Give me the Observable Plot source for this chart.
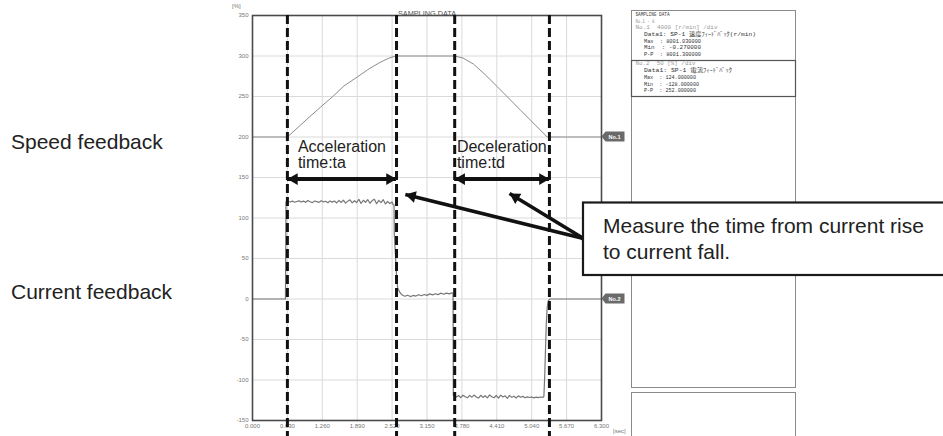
<!DOCTYPE html>
<html>
<head>
<meta charset="utf-8">
<script src="https://cdn.jsdelivr.net/npm/d3@7"></script>
<script src="https://cdn.jsdelivr.net/npm/@observablehq/plot@0.6"></script>
<style>
  body { margin: 0; background: #fff; }
  svg { display: block; }
</style>
</head>
<body>
<div id="chart"></div>
<script>
// ---------- data ----------
const chartTitle = "SAMPLING DATA";
const xTicks = [0, 0.63, 1.26, 1.89, 2.52, 3.15, 3.78, 4.41, 5.04, 5.67, 6.3];
const yTicks = [-150, -100, -50, 0, 50, 100, 150, 200, 250, 300, 350];

// speed feedback (drawn on the % axis, base level 200)
const speedFeedback = [
  [0, 200], [0.63, 200], [1.0, 223], [1.23, 237], [1.45, 250], [1.65, 263],
  [1.89, 274], [2.1, 284], [2.3, 292], [2.45, 297], [2.58, 300],
  [3.65, 300], [3.8, 297.5], [3.99, 290], [4.2, 277], [4.42, 262],
  [4.84, 233], [5.32, 200], [6.3, 200]
];

// current feedback (noisy trace)
const currentFeedback = [
  [0, 0], [0.595, 0], [0.605, 120], [0.64, 120.6], [0.68, 119.8], [0.72, 120.9], [0.76, 119.5],
  [0.80, 120.4], [0.84, 121.2], [0.88, 119.7], [0.92, 120.8], [0.96, 119.4], [1.00, 121.5],
  [1.04, 120.1], [1.08, 119.0], [1.12, 121.0], [1.16, 120.2], [1.20, 119.3], [1.24, 121.4],
  [1.28, 119.8], [1.32, 120.7], [1.36, 118.9], [1.40, 121.1], [1.44, 119.6], [1.48, 120.9],
  [1.52, 118.6], [1.56, 121.7], [1.60, 119.2], [1.64, 122.0], [1.68, 118.4], [1.72, 120.8],
  [1.76, 122.4], [1.80, 118.7], [1.84, 121.3], [1.88, 119.1], [1.92, 123.0], [1.96, 117.9],
  [2.00, 121.9], [2.04, 119.4], [2.08, 122.8], [2.12, 118.2], [2.16, 121.5], [2.20, 123.2],
  [2.24, 117.6], [2.28, 121.8], [2.32, 119.0], [2.36, 122.6], [2.40, 117.3], [2.44, 120.4],
  [2.48, 117.8], [2.52, 119.6], [2.54, 116.5], [2.555, 116], [2.56, 80], [2.60, 30],
  [2.62, 14], [2.66, 8], [2.70, 5.0], [2.75, 3.4], [2.80, 4.6], [2.85, 3.0], [2.90, 4.4],
  [2.95, 3.6], [3.00, 5.3], [3.05, 4.0], [3.10, 5.6], [3.15, 4.5], [3.20, 6.3], [3.25, 5.1],
  [3.30, 6.5], [3.35, 5.4], [3.40, 7.2], [3.45, 5.9], [3.50, 7.3], [3.55, 6.4], [3.60, 7.6],
  [3.62, 7.0], [3.625, -119], [3.64, -118.5], [3.68, -121.0], [3.72, -119.2], [3.76, -121.8],
  [3.80, -118.8], [3.84, -120.6], [3.88, -122.0], [3.92, -119.0], [3.96, -121.2], [4.00, -118.6],
  [4.04, -120.9], [4.08, -122.3], [4.12, -118.9], [4.16, -121.5], [4.20, -119.4], [4.24, -122.0],
  [4.28, -118.5], [4.32, -120.7], [4.36, -121.9], [4.40, -119.1], [4.44, -122.4], [4.48, -118.7],
  [4.52, -121.0], [4.56, -119.5], [4.60, -122.6], [4.64, -119.0], [4.68, -121.4], [4.72, -120.0],
  [4.76, -122.2], [4.80, -119.6], [4.84, -121.3], [4.88, -120.2], [4.92, -122.0], [4.96, -120.8],
  [5.00, -121.6], [5.04, -120.9], [5.08, -122.1], [5.12, -121.2], [5.16, -121.8], [5.20, -121.0],
  [5.24, -121.5], [5.26, -120.5], [5.275, -95], [5.29, -60], [5.305, -28], [5.32, -10],
  [5.34, -2], [5.37, 0], [6.3, 0]
];

// annotation anchors (seconds / % units)
const markerTimes = [0.63, 2.6, 3.65, 5.36];
const spanArrowLevel = 148;
const spanLabels = [
  { x: 0.82, text: "Acceleration\ntime:ta" },
  { x: 3.69, text: "Deceleration\ntime:td" }
];
const spanLabelTop = 196;
const calloutAnchor = [5.975, 74.7];
const calloutTips = [[2.76, 129], [4.64, 130.2]];
const calloutText = ["Measure the time from current rise", "to current fall."];
const sideLabels = [
  { text: "Speed feedback", level: 200, badge: "No.1" },
  { text: "Current feedback", level: 0, badge: "No.2" }
];
const panelLines = [
  { t: "SAMPLING DATA", ind: 0, c: "#333", len: 34 },
  { t: "No.1 - 8", ind: 0, c: "#9a9a9a", len: 19 },
  { t: "No.1  4000 [r/min] /div", ind: 0, c: "#9a9a9a", len: 82 },
  { t: "Data1: SP-1 速度ﾌｨｰﾄﾞﾊﾞｯｸ(r/min)", ind: 1, c: "#333", len: 112 },
  { t: "Max  : 8001.030000", ind: 1, c: "#333", len: 57 },
  { t: "Min  : -0.270000", ind: 1, c: "#333", len: 57 },
  { t: "P-P  : 8001.300000", ind: 1, c: "#333", len: 57 },
  { t: "No.2  50 [%] /div", ind: 0, c: "#9a9a9a", len: 60 },
  { t: "Data1: SP-1 電流ﾌｨｰﾄﾞﾊﾞｯｸ", ind: 1, c: "#333", len: 88 },
  { t: "Max  : 124.000000", ind: 1, c: "#333", len: 52 },
  { t: "Min  : -128.000000", ind: 1, c: "#333", len: 55 },
  { t: "P-P  : 252.000000", ind: 1, c: "#333", len: 52 }
];

// ---------- layout ----------
const W = 943, H = 436;
const M = { left: 252, right: 342, top: 15, bottom: 16 };
const xDomain = [0, 6.3], yDomain = [-150, 350];
const kx = (W - M.left - M.right) / (xDomain[1] - xDomain[0]);
const ky = (H - M.top - M.bottom) / (yDomain[1] - yDomain[0]);

// filled arrow head: centroid placed so the tip lands on `tip`
const HEAD_R = 4.4;
function head(tail, tip) {
  const px = (tip[0] - tail[0]) * kx, py = -(tip[1] - tail[1]) * ky;
  const L = Math.hypot(px, py), ux = px / L, uy = py / L;
  const off = 2 * Math.sqrt(Math.PI * HEAD_R * HEAD_R / (3 * Math.sqrt(3)));
  return { x: tip[0] - off * ux / kx, y: tip[1] + off * uy / ky, rotate: Math.atan2(ux, -uy) * 180 / Math.PI };
}
const spans = [
  { x1: markerTimes[0], x2: markerTimes[1], y: spanArrowLevel },
  { x1: markerTimes[2], x2: markerTimes[3], y: spanArrowLevel }
];
const heads = [];
spans.forEach(s => {
  heads.push(head([s.x2, s.y], [s.x1, s.y]));
  heads.push(head([s.x1, s.y], [s.x2, s.y]));
});
calloutTips.forEach(t => heads.push(head(calloutAnchor, t)));

const FONT = "'Liberation Sans', Arial, sans-serif";

const chart = Plot.plot({
  width: W, height: H,
  marginLeft: M.left, marginRight: M.right, marginTop: M.top, marginBottom: M.bottom,
  style: { fontFamily: FONT, background: "white" },
  x: { domain: xDomain },
  y: { domain: yDomain },
  marks: [
    Plot.gridX({ ticks: xTicks, stroke: "#dadada", strokeOpacity: 1 }),
    Plot.gridY({ ticks: yTicks, stroke: "#dadada", strokeOpacity: 1 }),
    Plot.axisX({ ticks: xTicks, tickFormat: d3.format(".3f"), tickSize: 0, tickPadding: 3, fontSize: 6, fill: "#777", label: null }),
    Plot.axisY({ ticks: yTicks, tickFormat: d => String(d), tickSize: 0, tickPadding: 4, fontSize: 6, fill: "#777", label: null }),
    Plot.line(speedFeedback, { x: d => d[0], y: d => d[1], stroke: "#8c8c8c", strokeWidth: 1 }),
    Plot.line(currentFeedback, { x: d => d[0], y: d => d[1], stroke: "#777", strokeWidth: 1.2 }),
    Plot.frame({ stroke: "#4a4a4a", strokeWidth: 1.6 }),
    Plot.text([chartTitle], { frameAnchor: "top", dy: -4.5, fontSize: 7.3, fill: "#555" }),
    Plot.text(spanLabels, { x: "x", y: () => spanLabelTop, text: "text", textAnchor: "start", lineAnchor: "top", lineHeight: 1, fontSize: 16, fill: "#222" }),
    Plot.ruleX(markerTimes, { x: d => d, y1: () => yDomain[1], y2: () => -170, stroke: "#111", strokeWidth: 3, strokeDasharray: "9,4" }),
    Plot.ruleY(spans, { y: "y", x1: "x1", x2: "x2", stroke: "#111", strokeWidth: 4 }),
    Plot.link(calloutTips, { x1: () => calloutAnchor[0], y1: () => calloutAnchor[1], x2: d => d[0], y2: d => d[1], stroke: "#111", strokeWidth: 3.6 }),
    Plot.dot(heads, { x: "x", y: "y", rotate: "rotate", symbol: "triangle", r: HEAD_R, fill: "#111", stroke: "none" }),
    Plot.dot([calloutAnchor], { x: d => d[0], y: d => d[1], r: 2.4, fill: "#111", stroke: "none" })
  ]
});
document.getElementById("chart").appendChild(chart);

// ---------- decorations in the same SVG ----------
const sx = chart.scale("x"), sy = chart.scale("y");
const svg = d3.select(chart);
const deco = svg.append("g").attr("text-anchor", "start").style("text-anchor", "start");

// axis unit labels
deco.append("text").attr("x", 232).attr("y", 8).attr("font-size", 6).attr("fill", "#777").text("[%]");
deco.append("text").attr("x", 613).attr("y", 433).attr("font-size", 6).attr("fill", "#777").text("[sec]");

// channel badges and side labels
sideLabels.forEach(s => {
  const yc = sy.apply(s.level);
  const x0 = sx.apply(xDomain[1]) + 0.5;
  deco.append("path")
    .attr("d", `M${x0},${yc} L${x0 + 4},${yc - 5} L${x0 + 23},${yc - 5} L${x0 + 23},${yc + 5} L${x0 + 4},${yc + 5} Z`)
    .attr("fill", "#6a6a6a");
  deco.append("text").attr("x", x0 + 13).attr("y", yc + 2).style("text-anchor", "middle")
    .attr("font-size", 5.5).attr("font-weight", "bold").attr("fill", "#fff").text(s.badge);
  deco.append("text").attr("x", 11).attr("y", s.level === 200 ? yc + 12.5 : yc)
    .attr("font-size", 21).attr("fill", "#222").text(s.text);
});

// right-hand info panel
deco.append("rect").attr("x", 631.5).attr("y", 10.5).attr("width", 164).attr("height", 377)
  .attr("fill", "none").attr("stroke", "#8a8a8a").attr("stroke-width", 1);
deco.append("rect").attr("x", 631.5).attr("y", 60.5).attr("width", 164).attr("height", 36)
  .attr("fill", "none").attr("stroke", "#555").attr("stroke-width", 1.2);
deco.append("rect").attr("x", 631.5).attr("y", 392.5).attr("width", 164).attr("height", 60)
  .attr("fill", "none").attr("stroke", "#8a8a8a").attr("stroke-width", 1);
const baselines = [15.8, 22.5, 29.2, 35.9, 42.6, 49.3, 56, 65.2, 72, 78.8, 85.6, 92.4];
panelLines.forEach((l, i) => {
  deco.append("text")
    .attr("x", l.ind ? 644 : 635.5).attr("y", baselines[i])
    .attr("font-family", "'Liberation Mono', 'DejaVu Sans Mono', 'Noto Sans CJK JP', monospace")
    .attr("font-size", 5.6).attr("fill", l.c)
    .attr("textLength", l.len).attr("lengthAdjust", "spacingAndGlyphs")
    .style("white-space", "pre")
    .text(l.t);
});

// callout box
const bx = sx.apply(calloutAnchor[0]);
deco.append("rect").attr("x", bx).attr("y", 202.5).attr("width", 380).attr("height", 72.5)
  .attr("fill", "#fff").attr("stroke", "#1a1a1a").attr("stroke-width", 2.2);
calloutText.forEach((t, i) => {
  deco.append("text").attr("x", bx + 20).attr("y", 233 + i * 26)
    .attr("font-size", 21).attr("fill", "#222").text(t);
});
</script>
</body>
</html>
